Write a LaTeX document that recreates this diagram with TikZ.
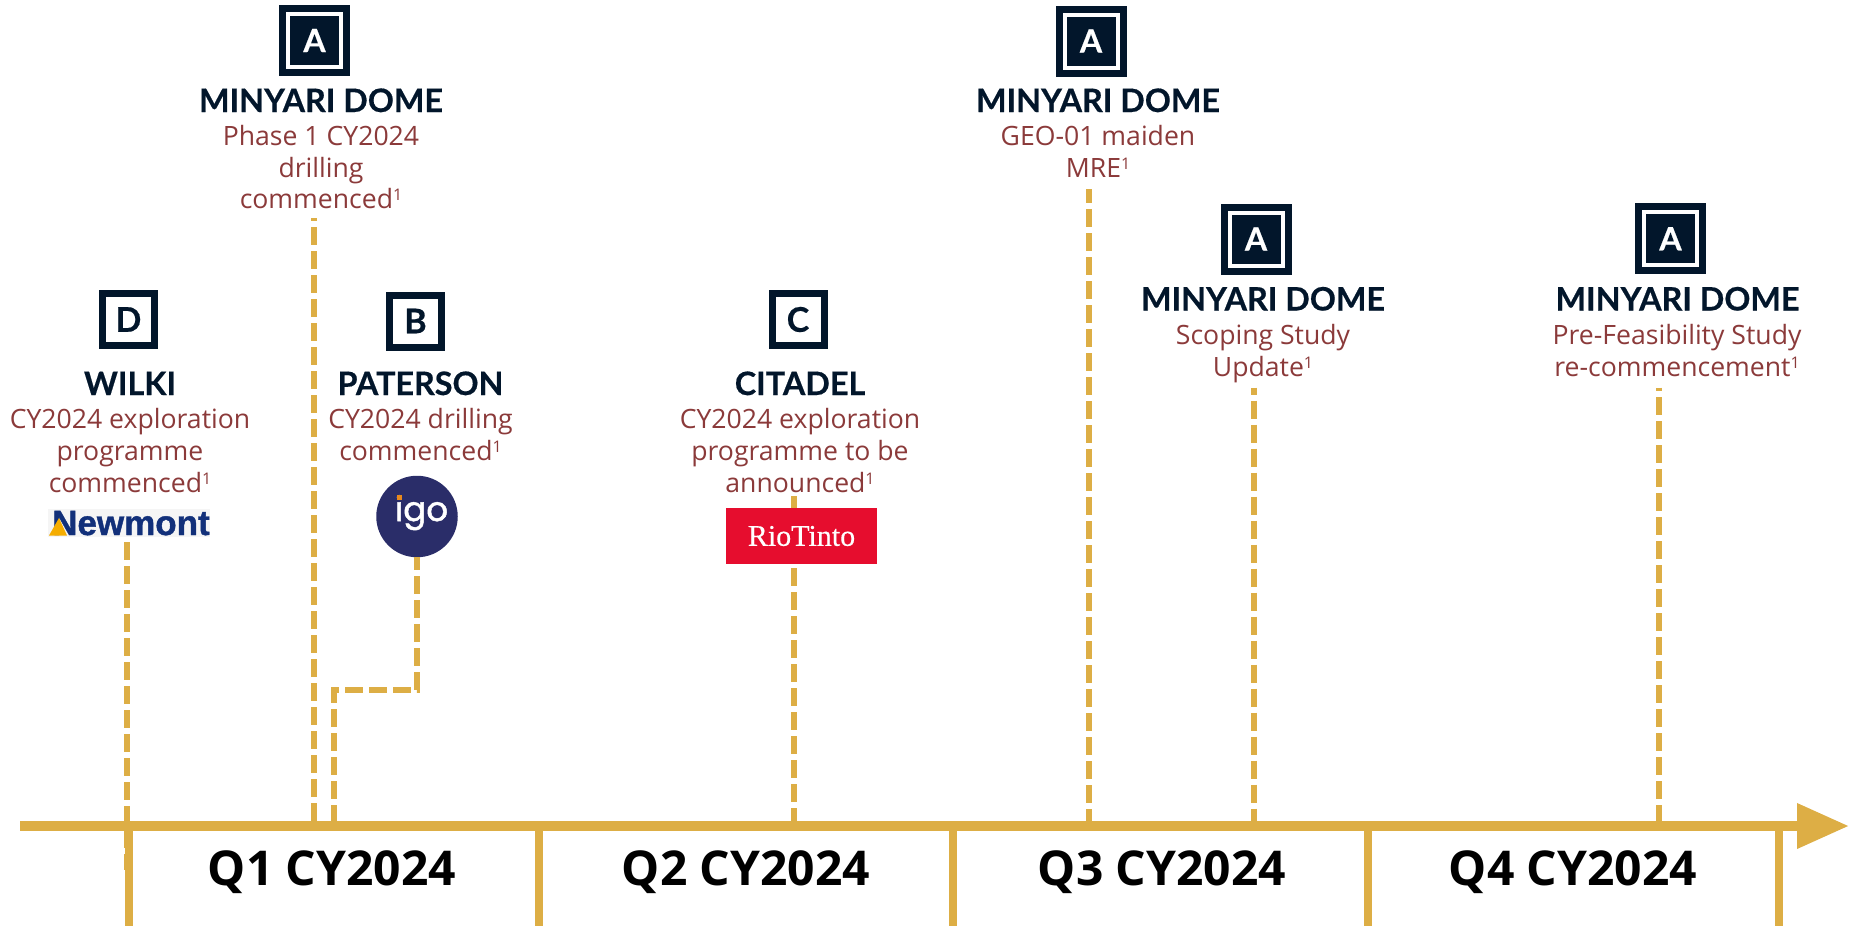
\documentclass[tikz,border=0pt]{standalone}
\usepackage{fontspec}
\usetikzlibrary{arrows.meta}
\setmainfont{Open Sans}
\newfontfamily\latofont[BoldFeatures={FakeBold=0.5}]{Lato}
\newfontfamily\logofont[BoldFeatures={FakeBold=1.2}]{Liberation Sans}
\newfontfamily\igofont[FakeBold=1.5]{Poppins}
\newfontfamily\riofont[FakeBold=0.4]{Liberation Serif}
\definecolor{gold}{HTML}{DDAE45}
\definecolor{navy}{HTML}{02162B}
\definecolor{descred}{HTML}{8B3A3A}
\definecolor{igoblue}{HTML}{2A2D69}
\definecolor{igoorange}{HTML}{E8891C}
\definecolor{newblue}{HTML}{12307A}
\definecolor{newgold}{HTML}{F5AD00}
\definecolor{riored}{HTML}{E60D2E}
\newcommand{\supone}{\raisebox{8pt}{\fontsize{16}{16}\selectfont 1}}
\tikzset{
  x=1pt,y=-1pt,
  boxA/.style={draw=navy,double=white,double distance=4pt,line width=7pt,fill=navy,text=white,
    minimum size=53pt,inner sep=0pt,font=\latofont\bfseries\fontsize{32}{32}\selectfont},
  boxL/.style={draw=navy,line width=7pt,fill=white,text=navy,
    minimum size=52pt,inner sep=0pt,font=\latofont\bfseries\fontsize{34}{34}\selectfont},
  heading/.style={anchor=base,inner sep=0pt,text=navy,font=\latofont\bfseries\fontsize{32.3}{32.3}\selectfont},
  desc/.style={anchor=base,inner sep=0pt,text=descred,font=\fontsize{26.6}{26.6}\selectfont},
  qlabel/.style={anchor=base,inner sep=0pt,text=black,font=\bfseries\fontsize{48}{48}\selectfont},
  dashline/.style={draw=gold,line width=6pt,dash pattern=on 18pt off 6pt},
  tickline/.style={draw=gold,line width=7.5pt},
}
\begin{document}
\begin{tikzpicture}
\useasboundingbox (0,0) rectangle (1849,926);
% axis anchors and free ends
\coordinate (axisL) at (20,826);
\coordinate (axisR) at (1849,826);
\coordinate (topD) at (127,542);
\coordinate (endD) at (127,870);
\coordinate (topA1) at (314,218);
\coordinate (endA1) at (314,826);
\coordinate (endB) at (334,826);
\coordinate (elbowA) at (417,690);
\coordinate (elbowB) at (334,690);
\coordinate (topC) at (794,496);
\coordinate (endC) at (794,826);
\coordinate (topA2) at (1088.7,189);
\coordinate (endA2) at (1088.7,826);
\coordinate (topA3) at (1254.3,387.5);
\coordinate (endA3) at (1254.3,826);
\coordinate (topA4) at (1659.3,387.5);
\coordinate (endA4) at (1659.3,826);
% dashed connectors
\draw[dashline] (topD) -- (endD);
\draw[dashline,dash phase=15pt] (topA1) -- (endA1);
\draw[dashline] (topC) -- (endC);
\draw[dashline,dash phase=4pt] (topA2) -- (endA2);
\draw[dashline,dash phase=11pt] (topA3) -- (endA3);
\draw[dashline,dash phase=14.5pt] (topA4) -- (endA4);
% quarter ticks
\foreach \n/\x in {t0/129,t1/539,t2/953,t3/1368,t4/1779}{
  \coordinate (\n top) at (\x,826);
  \coordinate (\n bot) at (\x,926);
  \draw[tickline] (\n top) -- (\n bot);
}
% axis
\draw[draw=gold,line width=10pt,-{Triangle[length=52pt,width=43pt,fill=gold]}] (axisL) -- (axisR);
% letter boxes
\node[boxA] (boxa1) at (314.5,40.5) {A};
\node[boxA] (boxa2) at (1091,41) {A};
\node[boxA] (boxa3) at (1256,239) {A};
\node[boxA] (boxa4) at (1670.5,238.7) {A};
\node[boxL] (boxd) at (128.5,319.5) {D};
\node[boxL] (boxb) at (415.5,321) {B};
\node[boxL] (boxc) at (798,319.5) {C};
% headings
\node[heading] (h1) at (321,112) {MINYARI DOME};
\node[heading] (h2) at (1098,112) {MINYARI DOME};
\node[heading] (h3) at (1263,310.5) {MINYARI DOME};
\node[heading] (h4) at (1677.5,310.5) {MINYARI DOME};
\node[heading] (hd) at (130,395) {WILKI};
\node[heading] (hb) at (420.5,395) {PATERSON};
\node[heading] (hc) at (800,395) {CITADEL};
% descriptions
\node[desc] (d1a) at (321,145) {Phase 1 CY2024};
\node[desc] (d1b) at (321,177) {drilling};
\node[desc] (d1c) at (321,208) {commenced\supone};
\node[desc] (d2a) at (1098,145) {GEO-01 maiden};
\node[desc] (d2b) at (1098,177) {MRE\supone};
\node[desc] (d3a) at (1263,344) {Scoping Study};
\node[desc] (d3b) at (1263,376) {Update\supone};
\node[desc] (d4a) at (1677,344) {Pre-Feasibility Study};
\node[desc] (d4b) at (1677,376) {re-commencement\supone};
\node[desc] (dda) at (130,428) {CY2024 exploration};
\node[desc] (ddb) at (130,460) {programme};
\node[desc] (ddc) at (130,492) {commenced\supone};
\node[desc] (dba) at (420.5,428) {CY2024 drilling};
\node[desc] (dbb) at (420.5,460) {commenced\supone};
\node[desc] (dca) at (800,428) {CY2024 exploration};
\node[desc] (dcb) at (800,460) {programme to be};
\node[desc] (dcc) at (800,492) {announced\supone};
% Newmont logo
\node[fill=black!4,minimum width=162pt,minimum height=28pt,inner sep=0pt] (newmont) at (129,523) {};
\node[anchor=base west,inner sep=0pt,text=newblue,font=\logofont\bfseries\fontsize{35}{35}\selectfont] (newmonttext) at (52,535) {Newmont};
\fill[newgold] (49,535.5) -- (59,518) -- (67,535.5) -- cycle;
% IGO logo
\node[circle,fill=igoblue,minimum size=81.5pt,inner sep=0pt] (igo) at (417,516.5) {};
\draw[dashline,dash phase=5pt] (igo.south) -- (elbowA) -- (elbowB) -- (endB);
\node[anchor=base,inner sep=0pt,text=white,font=\igofont\fontsize{34}{34}\selectfont] (igotext) at (421.5,521) {igo};
\fill[igoorange] (396.5,495) rectangle (401.5,500);
% Rio Tinto logo
\node[fill=riored,text=white,minimum width=151pt,minimum height=56pt,inner sep=0pt,font=\riofont\fontsize{30}{30}\selectfont] (rio) at (801.5,536) {RioTinto};
% quarter labels
\node[qlabel] (q1) at (332,885) {Q1 CY2024};
\node[qlabel] (q2) at (746,885) {Q2 CY2024};
\node[qlabel] (q3) at (1162,885) {Q3 CY2024};
\node[qlabel] (q4) at (1573,885) {Q4 CY2024};
\end{tikzpicture}
\end{document}
